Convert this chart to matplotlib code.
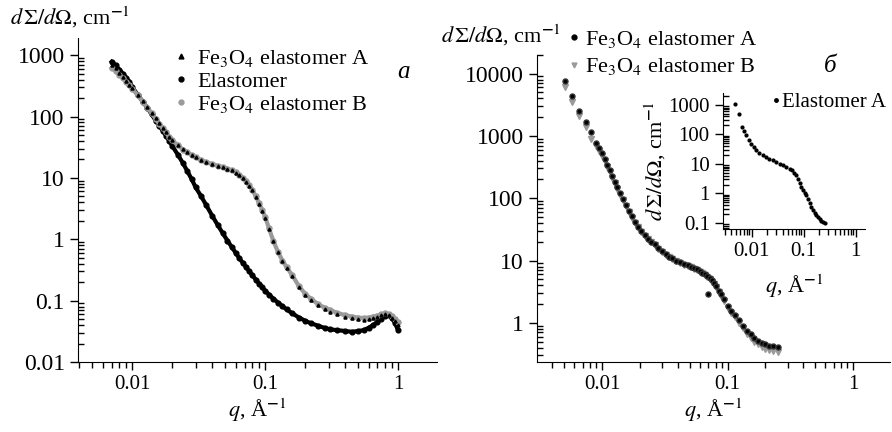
import matplotlib
matplotlib.use("Agg")
import matplotlib.pyplot as plt
from matplotlib.lines import Line2D
from matplotlib.ticker import LogLocator, FuncFormatter, NullFormatter

plt.rcParams['font.family'] = ['Liberation Serif', 'DejaVu Serif']
plt.rcParams['mathtext.fontset'] = 'stix'

# ---- panel a : q (1/A) and dSigma/dOmega (1/cm) ----
q_a = [0.0070, 0.0075, 0.008, 0.0085, 0.009, 0.0095, 0.010, 0.011, 0.012, 0.013,
       0.014, 0.015, 0.016, 0.017, 0.018, 0.019, 0.020, 0.022, 0.024, 0.026,
       0.028, 0.030, 0.033, 0.036, 0.040, 0.044, 0.048, 0.052, 0.056, 0.060,
       0.064, 0.068, 0.072, 0.076, 0.080, 0.085, 0.090, 0.095, 0.100, 0.107,
       0.115, 0.125, 0.135, 0.145, 0.16, 0.18, 0.20, 0.22, 0.25, 0.28,
       0.31, 0.35, 0.40, 0.45, 0.50, 0.55, 0.60, 0.65, 0.70, 0.75,
       0.80, 0.85, 0.90, 0.95, 1.00]
fe_A = [700, 610, 520, 445, 385, 330, 290, 222, 176, 141,
        113, 93, 77, 64, 55, 47, 41, 34, 29.5, 26,
        23.5, 21.5, 19.5, 18, 16.8, 15.8, 15, 14.2, 13.3, 12.2,
        11.1, 9.9, 8.7, 7.5, 6.3, 4.9, 3.8, 2.9, 2.25, 1.45,
        0.93, 0.61, 0.44, 0.34, 0.25, 0.165, 0.125, 0.104, 0.085, 0.074,
        0.066, 0.060, 0.055, 0.052, 0.050, 0.049, 0.050, 0.052, 0.055, 0.058,
        0.061, 0.058, 0.053, 0.046, 0.040]
elast = [780, 680, 580, 500, 430, 370, 300, 225, 175, 138,
         108, 86, 70, 58, 48, 40, 33, 24, 17.5, 12.8,
         9.5, 7.0, 5.0, 3.6, 2.4, 1.7, 1.25, 0.95, 0.75, 0.60,
         0.49, 0.41, 0.35, 0.30, 0.26, 0.22, 0.19, 0.166, 0.145, 0.125,
         0.108, 0.093, 0.081, 0.072, 0.062, 0.053, 0.047, 0.043, 0.039, 0.036,
         0.034, 0.033, 0.032, 0.031, 0.032, 0.033, 0.036, 0.040, 0.045, 0.051,
         0.057, 0.058, 0.052, 0.043, 0.033]
fe_B = [620, 560, 480, 420, 370, 320, 285, 220, 175, 140,
        112, 92, 76, 64, 55, 47, 41, 34, 29, 26,
        23.5, 21.5, 19.5, 18, 16.8, 15.8, 15, 14.2, 13.3, 12.3,
        11.2, 10, 8.8, 7.6, 6.4, 5.0, 3.9, 3.0, 2.3, 1.5,
        0.95, 0.62, 0.45, 0.35, 0.26, 0.17, 0.13, 0.108, 0.088, 0.077,
        0.070, 0.063, 0.058, 0.055, 0.053, 0.052, 0.053, 0.055, 0.057, 0.060,
        0.062, 0.060, 0.056, 0.050, 0.045]

# ---- panel b ----
q_bA = [0.00507, 0.00577, 0.00656, 0.00746, 0.00817, 0.0090, 0.0095, 0.0100, 0.0105, 0.0110,
        0.0115, 0.0120, 0.0126, 0.0132, 0.0139, 0.0147, 0.0155, 0.0164, 0.0173, 0.0183,
        0.0194, 0.0205, 0.0218, 0.0232, 0.0247, 0.0263, 0.028, 0.030, 0.032, 0.034,
        0.036, 0.039, 0.042, 0.045, 0.048, 0.051, 0.054, 0.057, 0.060, 0.063,
        0.066, 0.069, 0.070, 0.072, 0.075, 0.078, 0.081, 0.085, 0.089, 0.094,
        0.100, 0.107, 0.115, 0.123, 0.132, 0.142, 0.152, 0.163, 0.175, 0.188,
        0.20, 0.215, 0.23, 0.25]
b_A = [7700, 4300, 2550, 1700, 1170, 780, 640, 530, 430, 340,
       280, 230, 185, 150, 120, 97, 78, 62, 51, 42,
       35, 30, 26, 22.5, 20, 18.5, 15.8, 14, 12.6, 11.6,
       10.8, 10, 9.3, 8.8, 8.4, 8.0, 7.6, 7.2, 6.8, 6.4,
       6.0, 5.6, 2.9, 5.2, 4.8, 4.4, 3.9, 3.3, 2.9, 2.4,
       1.85, 1.55, 1.32, 1.1, 0.9, 0.74, 0.65, 0.57, 0.52, 0.48,
       0.45, 0.43, 0.42, 0.41]
q_bB = [0.00507, 0.00577, 0.00656, 0.00746, 0.00817, 0.0090, 0.0095, 0.0100, 0.0105, 0.0110,
        0.0115, 0.0120, 0.0126, 0.0132, 0.0139, 0.0147, 0.0155, 0.0164, 0.0173, 0.0183,
        0.0194, 0.0205, 0.0218, 0.0232, 0.0247, 0.0263, 0.028, 0.030, 0.032, 0.034,
        0.036, 0.039, 0.042, 0.045, 0.048, 0.051, 0.054, 0.057, 0.060, 0.063,
        0.066, 0.069, 0.072, 0.075, 0.078, 0.081, 0.085, 0.089, 0.094, 0.100,
        0.107, 0.115, 0.123, 0.132, 0.142, 0.152, 0.163, 0.175, 0.188, 0.20,
        0.215, 0.23, 0.25]
b_B = [6100, 3500, 2100, 1400, 900, 700, 580, 480, 390, 315,
       260, 215, 175, 142, 114, 92, 75, 60, 49, 40,
       34, 29, 25, 22, 19.5, 17.8, 15.3, 13.6, 12.3, 11.3,
       10.5, 9.8, 9.1, 8.6, 8.2, 7.8, 7.4, 7.0, 6.6, 6.2,
       5.8, 5.4, 5.0, 4.6, 4.2, 3.7, 3.1, 2.7, 2.2, 1.75,
       1.45, 1.22, 1.0, 0.82, 0.67, 0.58, 0.50, 0.45, 0.41, 0.38,
       0.36, 0.35, 0.34]

# inset: elastomer A
q_in = [0.00486, 0.0057, 0.0065, 0.0072, 0.0079, 0.0088, 0.0099, 0.011, 0.0123, 0.014,
        0.0165, 0.019, 0.022, 0.0257, 0.030, 0.035, 0.040, 0.046, 0.0537, 0.060,
        0.066, 0.072, 0.078, 0.084, 0.090, 0.096, 0.104, 0.113, 0.122, 0.131,
        0.141, 0.152, 0.164, 0.176, 0.189, 0.205, 0.22, 0.237, 0.254]
I_in = [1015, 480, 180, 125, 92, 66, 48, 38, 30, 24,
        19.4, 16.5, 14.5, 13.1, 11.5, 10, 8.9, 7.9, 6.9, 6.0,
        5.0, 4.07, 3.0, 2.2, 1.64, 1.3, 1.05, 0.86, 0.64, 0.47,
        0.346, 0.27, 0.21, 0.18, 0.158, 0.135, 0.12, 0.11, 0.10]

ylab = r'$d\,\Sigma/d\Omega$, cm$^{\mathbf{-}1}$'
xlab = r'$q$, Å$^{\mathbf{-}1}$'
grey = '#9a9a9a'


def style(ax, fsx, fsy):
    ax.set_xscale('log')
    ax.set_yscale('log')
    ax.spines['top'].set_visible(False)
    ax.spines['right'].set_visible(False)
    ax.xaxis.set_major_locator(LogLocator(base=10, numticks=12))
    ax.xaxis.set_minor_locator(LogLocator(base=10, subs=range(2, 10), numticks=12))
    ax.yaxis.set_major_locator(LogLocator(base=10, numticks=12))
    ax.yaxis.set_minor_locator(LogLocator(base=10, subs=range(2, 10), numticks=12))
    fmt = FuncFormatter(lambda v, p: f'{v:g}')
    ax.xaxis.set_major_formatter(fmt)
    ax.yaxis.set_major_formatter(fmt)
    ax.xaxis.set_minor_formatter(NullFormatter())
    ax.yaxis.set_minor_formatter(NullFormatter())
    ax.tick_params(which='major', direction='out', length=6, width=1)
    ax.tick_params(axis='x', which='major', labelsize=fsx)
    ax.tick_params(axis='y', which='major', labelsize=fsy)
    ax.tick_params(axis='x', which='minor', direction='out', length=4, width=1)
    ax.tick_params(axis='y', which='minor', direction='in', length=4, width=1)


fig = plt.figure(figsize=(8.92, 4.32), dpi=100)

# ---------------- panel a ----------------
ax1 = fig.add_axes([0.0874, 0.162, 0.402, 0.750])
ax1.plot(q_a, elast, '-', color='black', lw=3)
ax1.plot(q_a, elast, 'o', color='black', ms=3.4)
ax1.plot(q_a, fe_B, '-', color=grey, lw=3)
ax1.plot(q_a, fe_B, 'o', color=grey, ms=3.6)
ax1.plot(q_a, fe_A, '^', color='black', ms=2.2)
style(ax1, 15, 17)
ax1.set_xlim(0.0039, 1.95)
ax1.set_ylim(0.01, 1900)
ax1.set_xlabel(xlab, fontsize=16, labelpad=2)

h1 = [Line2D([], [], ls='', marker='^', color='black', ms=3.5),
      Line2D([], [], ls='', marker='o', color='black', ms=3.5),
      Line2D([], [], ls='', marker='o', color=grey, ms=3.5)]
ax1.legend(h1, ['Fe$_3$O$_4$ elastomer A', 'Elastomer', 'Fe$_3$O$_4$ elastomer B'],
           loc='upper left', bbox_to_anchor=(0.27, 0.97), frameon=False,
           fontsize=16, handlelength=0.6, handletextpad=0.4,
           labelspacing=0.1, borderpad=0, borderaxespad=0)

# ---------------- panel b ----------------
ax2 = fig.add_axes([0.602, 0.162, 0.396, 0.711])
ax2.plot(q_bB, b_B, 'v', color=grey, ms=4)
ax2.plot(q_bA, b_A, 'o', color='black', ms=3.6, mec='#333333')
style(ax2, 15, 17)
ax2.set_xlim(0.00303, 1.97)
ax2.set_ylim(0.235, 20000)
ax2.set_xlabel(xlab, fontsize=16, labelpad=2)

h2 = [Line2D([], [], ls='', marker='o', color='black', ms=3.5),
      Line2D([], [], ls='', marker='v', color=grey, ms=3.5)]
ax2.legend(h2, ['Fe$_3$O$_4$ elastomer A', 'Fe$_3$O$_4$ elastomer B'],
           loc='upper left', bbox_to_anchor=(0.09, 1.085), frameon=False,
           fontsize=16, handlelength=0.5, handletextpad=0.25,
           labelspacing=0.3, borderpad=0, borderaxespad=0)

# inset
ax3 = fig.add_axes([0.8105, 0.470, 0.159, 0.315])
ax3.plot(q_in, I_in, 'o', color='black', ms=2)
style(ax3, 15, 15)
ax3.set_xlim(0.0028, 1.5)
ax3.set_ylim(0.063, 2500)
ax3.set_xlabel(xlab, fontsize=16, labelpad=8)
ax3.set_ylabel(ylab, fontsize=16, labelpad=0)
h3 = [Line2D([], [], ls='', marker='o', color='black', ms=2.5)]
ax3.legend(h3, ['Elastomer A'], loc='center left', bbox_to_anchor=(0.35, 0.93),
           frameon=False, fontsize=15, handlelength=0.3, handletextpad=0.15,
           borderpad=0, borderaxespad=0)

# axis titles and panel letters
fig.text(10 / 892, 1 - 17 / 432, ylab, fontsize=16, ha='left', va='center')
fig.text(441 / 892, 1 - 35 / 432, ylab, fontsize=16, ha='left', va='center')
fig.text(403 / 892, 1 - 72 / 432, 'a', fontsize=18, style='italic', ha='center', va='center')
fig.text(830 / 892, 1 - 66 / 432, 'б', fontsize=18, style='italic', ha='center', va='center')

fig.savefig('out.png', dpi=100)
